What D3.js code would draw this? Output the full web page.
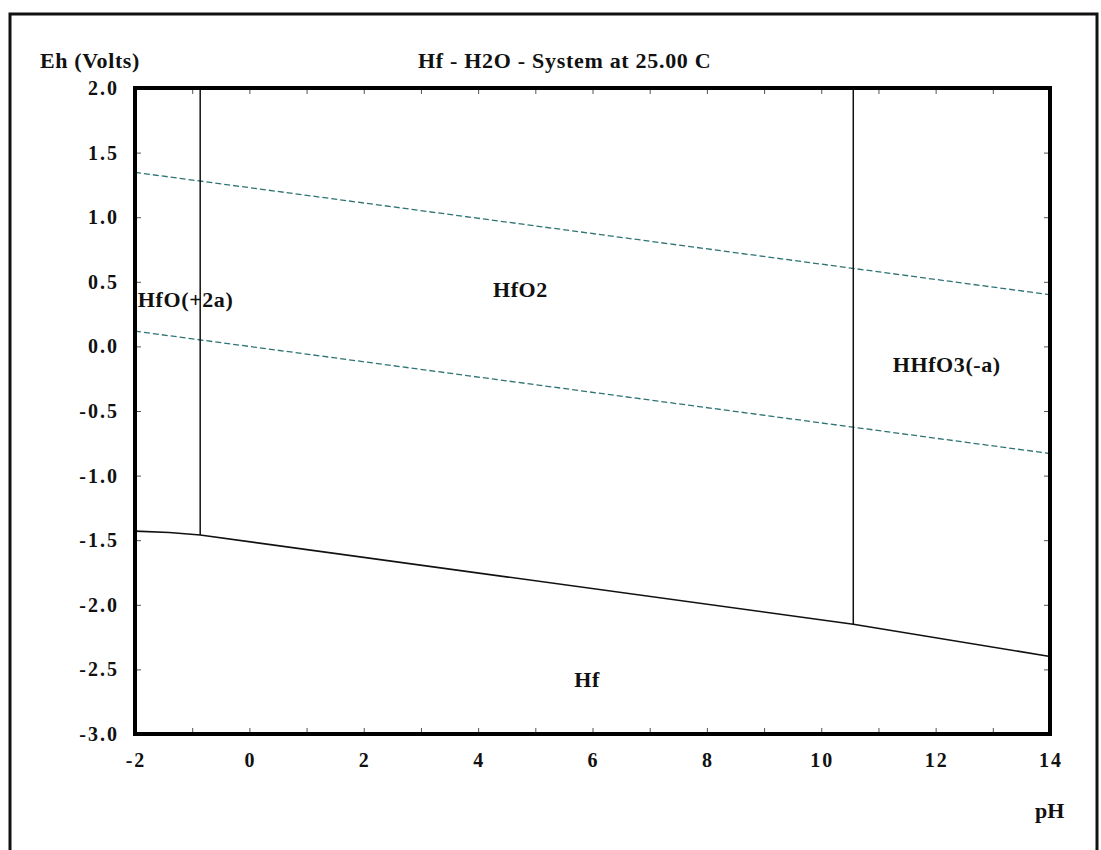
<!DOCTYPE html>
<html>
<head>
<meta charset="utf-8">
<script src="https://cdnjs.cloudflare.com/ajax/libs/d3/7.8.5/d3.min.js"></script>
<style>
    body { margin: 0; background: #ffffff; }
    text { font-family: 'Liberation Serif', 'Times New Roman', serif; fill: #111111; }
</style>
</head>
<body>
<div id="chart"></div>
<script>

/****************************
  * Data
  ***************************/

// axis ranges and tick labels
var xDomain = [-2, 14];
var yDomain = [-3, 2];
var xTickLabels = [-2, 0, 2, 4, 6, 8, 10, 12, 14];
var xMinorTicks = [-1, 0, 1, 2, 3, 4, 5, 6, 7, 8, 9, 10, 11, 12, 13];
var yTickLabels = [2.0, 1.5, 1.0, 0.5, 0.0, -0.5, -1.0, -1.5, -2.0, -2.5, -3.0];

// lower stability boundary of Hf metal, [pH, Eh]
var hfBoundary = [[-2, -1.43], [-1.4, -1.44], [-0.86, -1.46], [10.56, -2.15], [14, -2.40]];

// vertical boundaries between species, [pH, Eh top, Eh bottom]
var hfoBoundary = [[-0.86, 2.0], [-0.86, -1.46]];
var hhfo3Boundary = [[10.56, 2.0], [10.56, -2.15]];

// water stability limits (dashed)
var waterUpper = [[-2, 1.347], [14, 0.400]];
var waterLower = [[-2, 0.118], [14, -0.829]];

// species names and where they sit, [pH, Eh]
var speciesNames = ['HfO(+2a)', 'HfO2', 'HHfO3(-a)', 'Hf'];
var speciesPos = [[-1.95, 0.305], [4.26, 0.38], [11.25, -0.20], [5.68, -2.64]];

/****************************
  * SVG Canvas Setup
  ***************************/

var width = 1101;
var height = 850;
var plot = {left: 135, right: 1050, top: 88, bottom: 734};

var svg = d3.select('#chart').append('svg')
    .attr('width', width)
    .attr('height', height);

// outer frame of the picture
svg.append('rect')
    .attr('x', 10).attr('y', 14)
    .attr('width', 1087).attr('height', 900)
    .style('fill', 'none')
    .style('stroke', '#111111')
    .style('stroke-width', 3);

var x = d3.scaleLinear().domain(xDomain).range([plot.left, plot.right]);
var y = d3.scaleLinear().domain(yDomain).range([plot.bottom, plot.top]);

var line = d3.line()
    .x(function(d) { return x(d[0]); })
    .y(function(d) { return y(d[1]); });

/****************************
  * Axes
  ***************************/

// small inward ticks on all four sides
function drawTicks(axis, translate) {
    var g = svg.append('g')
        .attr('transform', translate)
        .call(axis);
    g.select('.domain').remove();
    g.selectAll('line').style('stroke', '#555555').style('stroke-width', 1);
    g.selectAll('text').remove();
}

drawTicks(d3.axisTop(x).tickValues(xMinorTicks).tickSize(6), 'translate(0,' + plot.bottom + ')');
drawTicks(d3.axisBottom(x).tickValues(xMinorTicks).tickSize(6), 'translate(0,' + plot.top + ')');
drawTicks(d3.axisRight(y).tickValues(yTickLabels.slice(1, -1)).tickSize(6), 'translate(' + plot.left + ',0)');
drawTicks(d3.axisLeft(y).tickValues(yTickLabels.slice(1, -1)).tickSize(6), 'translate(' + plot.right + ',0)');

// tick labels
svg.append('g').selectAll('text')
    .data(xTickLabels)
    .enter().append('text')
    .attr('x', function(d) { return x(d) + 1; })
    .attr('y', plot.bottom + 33)
    .attr('text-anchor', 'middle')
    .style('font-size', '20px')
    .style('font-weight', 'bold')
    .style('letter-spacing', '2px')
    .text(function(d) { return d; });

svg.append('g').selectAll('text')
    .data(yTickLabels)
    .enter().append('text')
    .attr('x', plot.left - 16)
    .attr('y', function(d) { return y(d) + 7; })
    .attr('text-anchor', 'end')
    .style('font-size', '20px')
    .style('font-weight', 'bold')
    .style('letter-spacing', '2px')
    .text(function(d) { return d.toFixed(1); });

// titles
svg.append('text')
    .attr('x', 40).attr('y', 68)
    .style('font-size', '22px').style('font-weight', 'bold')
    .style('letter-spacing', '0.6px')
    .text('Eh (Volts)');

svg.append('text')
    .attr('x', 418).attr('y', 68)
    .style('font-size', '22px').style('font-weight', 'bold')
    .style('letter-spacing', '0.7px')
    .text('Hf - H2O - System at 25.00 C');

svg.append('text')
    .attr('x', 1035).attr('y', 818)
    .style('font-size', '22px').style('font-weight', 'bold')
    .text('pH');

/****************************
  * Diagram Lines
  ***************************/

function drawPath(data, color, strokeWidth, dash) {
    svg.append('path')
        .attr('d', line(data))
        .style('fill', 'none')
        .style('stroke', color)
        .style('stroke-width', strokeWidth)
        .style('stroke-dasharray', dash);
}

drawPath(waterUpper, '#2f7474', 1.3, '6,3');
drawPath(waterLower, '#2f7474', 1.3, '6,3');
drawPath(hfBoundary, '#111111', 1.6, null);
drawPath(hfoBoundary, '#111111', 1.5, null);
drawPath(hhfo3Boundary, '#111111', 1.5, null);

// species labels
svg.append('g').selectAll('text')
    .data(speciesNames)
    .enter().append('text')
    .attr('x', function(d, i) { return x(speciesPos[i][0]); })
    .attr('y', function(d, i) { return y(speciesPos[i][1]); })
    .style('font-size', '22px')
    .style('font-weight', 'bold')
    .style('letter-spacing', '0.6px')
    .text(function(d) { return d; });

// plot frame drawn last so it covers line ends
svg.append('rect')
    .attr('x', plot.left).attr('y', plot.top)
    .attr('width', plot.right - plot.left)
    .attr('height', plot.bottom - plot.top)
    .style('fill', 'none')
    .style('stroke', '#000000')
    .style('stroke-width', 4);

</script>
</body>
</html>
